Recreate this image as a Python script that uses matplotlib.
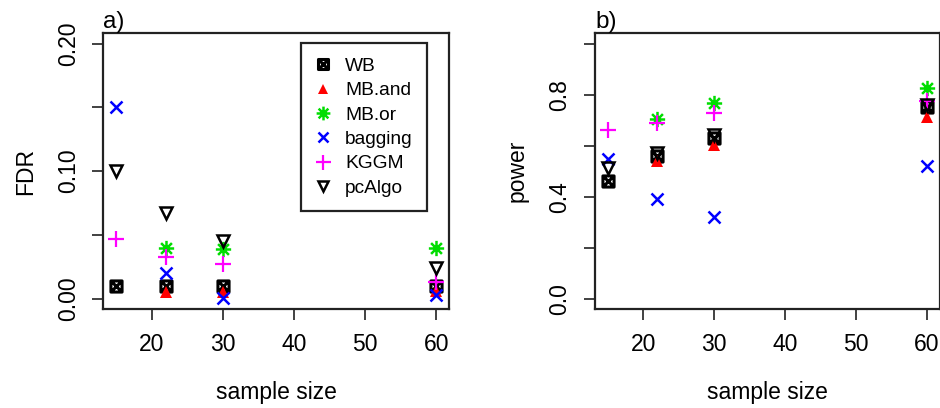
import numpy as np
import matplotlib.pyplot as plt
from matplotlib.path import Path

plt.rcParams['font.family'] = ['Liberation Sans', 'DejaVu Sans']

# sample sizes
n = [15, 22, 30, 60]

# FDR per method (panel a)
fdr_wb = [0.010, 0.010, 0.010, 0.010]
fdr_mb_and = [np.nan, 0.005, 0.005, 0.006]
fdr_mb_or = [np.nan, 0.040, 0.039, 0.040]
fdr_bagging = [0.150, 0.020, 0.001, 0.003]
fdr_kggm = [0.047, 0.033, 0.027, 0.013]
fdr_pcalgo = [0.100, 0.067, 0.045, 0.024]

# power per method (panel b)
pow_wb = [0.461, 0.559, 0.630, 0.752]
pow_mb_and = [np.nan, 0.539, 0.604, 0.713]
pow_mb_or = [np.nan, 0.705, 0.768, 0.826]
pow_bagging = [0.546, 0.392, 0.321, 0.522]
pow_kggm = [0.663, 0.689, 0.729, 0.774]
pow_pcalgo = [0.513, 0.572, 0.640, 0.761]

labels = ['WB', 'MB.and', 'MB.or', 'bagging', 'KGGM', 'pcAlgo']

# R style point symbols
sq_x = Path([(-1, -1), (1, -1), (1, 1), (-1, 1), (-1, -1),
             (-1, -1), (1, 1), (-1, 1), (1, -1)],
            [Path.MOVETO, Path.LINETO, Path.LINETO, Path.LINETO, Path.CLOSEPOLY,
             Path.MOVETO, Path.LINETO, Path.MOVETO, Path.LINETO])
d = 0.707
star8 = Path([(0, -1), (0, 1), (-1, 0), (1, 0), (-d, -d), (d, d), (-d, d), (d, -d)],
             [Path.MOVETO, Path.LINETO] * 4)

styles = [
    dict(marker=sq_x, color='black', ms=8, mew=2.2, mfc='none'),
    dict(marker='^', color='red', ms=8, mew=0, mfc='red'),
    dict(marker=star8, color='#00dd00', ms=11, mew=1.8, mfc='none'),
    dict(marker='x', color='blue', ms=8, mew=1.8),
    dict(marker='+', color='magenta', ms=12, mew=1.6),
    dict(marker='v', color='black', ms=8.5, mew=1.8, mfc='none'),
]

fig = plt.figure(figsize=(9.4, 4.08), dpi=100)
ax1 = fig.add_axes([0.1099, 0.2426, 0.368, 0.6758])
ax2 = fig.add_axes([0.633, 0.2426, 0.3665, 0.6758])

fs = 16.5


def setup(ax, ylim, yticks, ylabels, ylab, tag):
    ax.set_xlim(13.2, 61.8)
    ax.set_ylim(ylim)
    ax.set_xticks([20, 30, 40, 50, 60])
    ax.set_yticks(yticks)
    ax.set_yticklabels(ylabels)
    ax.tick_params(direction='out', length=8, width=1.3, labelsize=fs, pad=9, color='#333333')
    ax.tick_params(axis='y', labelrotation=90)
    for lab in ax.get_yticklabels():
        lab.set_va('center')
    for s in ax.spines.values():
        s.set_linewidth(1.6)
        s.set_color('#222222')
    ax.set_xlabel('sample size', fontsize=fs, labelpad=18)
    ax.set_ylabel(ylab, fontsize=fs, labelpad=14)
    ax.text(0.0, 1.0, tag, transform=ax.transAxes, fontsize=fs + 1, ha='left', va='bottom')


series_a = [fdr_wb, fdr_mb_and, fdr_mb_or, fdr_bagging, fdr_kggm, fdr_pcalgo]
series_b = [pow_wb, pow_mb_and, pow_mb_or, pow_bagging, pow_kggm, pow_pcalgo]

for vals, st, lab in zip(series_a, styles, labels):
    ax1.plot(n, vals, linestyle='none', label=lab, **st)
for vals, st in zip(series_b, styles):
    ax2.plot(n, vals, linestyle='none', **st)

setup(ax1, (-0.008, 0.208), [0, 0.05, 0.10, 0.15, 0.20],
      ['0.00', '', '0.10', '', '0.20'], 'FDR', 'a)')
setup(ax2, (-0.04, 1.04), [0, 0.2, 0.4, 0.6, 0.8, 1.0],
      ['0.0', '', '0.4', '', '0.8', ''], 'power', 'b)')

leg = ax1.legend(loc='upper left', bbox_to_anchor=(0.571, 0.964), fontsize=13.8,
                 frameon=True, fancybox=False, edgecolor='#222222', framealpha=1,
                 handlelength=0.8, handletextpad=0.75, labelspacing=0.36,
                 borderpad=0.75, borderaxespad=0, markerscale=0.9)
leg.get_frame().set_linewidth(1.6)

fig.savefig('out.png', dpi=100)
